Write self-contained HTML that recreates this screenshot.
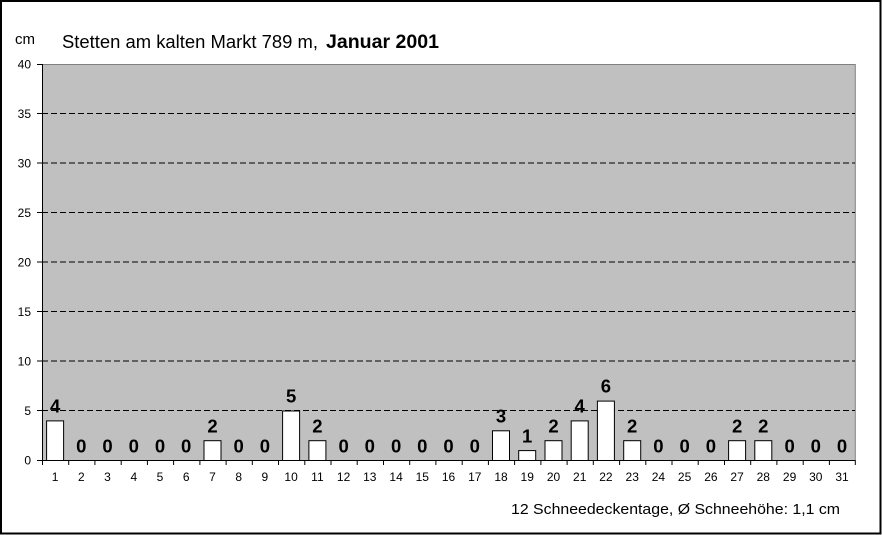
<!DOCTYPE html>
<html>
<head>
<meta charset="utf-8">
<style>
html,body{margin:0;padding:0;background:#fff;}
svg{display:block;}
text{font-family:"Liberation Sans",Arial,sans-serif;fill:#000;}
</style>
</head>
<body>
<svg width="882" height="535" viewBox="0 0 882 535" xmlns="http://www.w3.org/2000/svg">
<rect x="0" y="0" width="882" height="535" fill="#fff"/>
<rect x="1" y="1" width="879.5" height="532.5" fill="none" stroke="#000" stroke-width="2"/>

<!-- plot area -->
<rect x="42" y="64" width="813.3" height="396" fill="#C0C0C0"/>
<polyline points="42,64.5 855.3,64.5 855.3,460" fill="none" stroke="#808080" stroke-width="1"/>

<!-- gridlines -->
<g stroke="#000" stroke-width="1" stroke-dasharray="6,3">
<line x1="42" y1="113.5" x2="855" y2="113.5"/>
<line x1="42" y1="163" x2="855" y2="163"/>
<line x1="42" y1="212.5" x2="855" y2="212.5"/>
<line x1="42" y1="262" x2="855" y2="262"/>
<line x1="42" y1="311.5" x2="855" y2="311.5"/>
<line x1="42" y1="361" x2="855" y2="361"/>
<line x1="42" y1="410.5" x2="855" y2="410.5"/>
</g>

<!-- axes -->
<line x1="42.5" y1="64" x2="42.5" y2="460.5" stroke="#000" stroke-width="1"/>
<line x1="42" y1="460.5" x2="855.3" y2="460.5" stroke="#000" stroke-width="1"/>

<!-- y ticks -->
<g stroke="#000" stroke-width="1">
<line x1="37" y1="64.5" x2="42" y2="64.5"/>
<line x1="37" y1="113.5" x2="42" y2="113.5"/>
<line x1="37" y1="163" x2="42" y2="163"/>
<line x1="37" y1="212.5" x2="42" y2="212.5"/>
<line x1="37" y1="262" x2="42" y2="262"/>
<line x1="37" y1="311.5" x2="42" y2="311.5"/>
<line x1="37" y1="361" x2="42" y2="361"/>
<line x1="37" y1="410.5" x2="42" y2="410.5"/>
<line x1="37" y1="460.5" x2="42" y2="460.5"/>
</g>
<g font-size="12" text-anchor="end">
<text x="31" y="68.5">40</text>
<text x="31" y="118">35</text>
<text x="31" y="167.5">30</text>
<text x="31" y="217">25</text>
<text x="31" y="266.5">20</text>
<text x="31" y="316">15</text>
<text x="31" y="365.5">10</text>
<text x="31" y="415">5</text>
<text x="31" y="464.5">0</text>
</g>

<!-- x ticks -->
<g stroke="#000" stroke-width="1" id="xt"></g>

<!-- bars + labels -->
<g id="bars"></g>

<!-- titles -->
<text x="15" y="44" font-size="15">cm</text>
<text x="62" y="48" font-size="18" textLength="256" lengthAdjust="spacingAndGlyphs">Stetten am kalten Markt 789 m,</text>
<text x="326" y="48" font-size="19" font-weight="bold" textLength="113" lengthAdjust="spacingAndGlyphs">Januar 2001</text>
<text x="511" y="514" font-size="15" textLength="329" lengthAdjust="spacingAndGlyphs">12 Schneedeckentage, Ø Schneehöhe: 1,1 cm</text>

<g id="xl" font-size="12" text-anchor="middle">
<text x="55.1" y="481">1</text><text x="81.3" y="481">2</text><text x="107.5" y="481">3</text><text x="133.8" y="481">4</text><text x="160" y="481">5</text><text x="186.2" y="481">6</text><text x="212.5" y="481">7</text><text x="238.7" y="481">8</text><text x="264.9" y="481">9</text><text x="291.1" y="481">10</text><text x="317.4" y="481">11</text><text x="343.6" y="481">12</text><text x="369.8" y="481">13</text><text x="396.1" y="481">14</text><text x="422.3" y="481">15</text><text x="448.5" y="481">16</text><text x="474.8" y="481">17</text><text x="501" y="481">18</text><text x="527.2" y="481">19</text><text x="553.5" y="481">20</text><text x="579.7" y="481">21</text><text x="605.9" y="481">22</text><text x="632.2" y="481">23</text><text x="658.4" y="481">24</text><text x="684.6" y="481">25</text><text x="710.9" y="481">26</text><text x="737.1" y="481">27</text><text x="763.3" y="481">28</text><text x="789.6" y="481">29</text><text x="815.8" y="481">30</text><text x="842" y="481">31</text>
</g>

<g stroke="#000" stroke-width="1">
<line x1="42.5" y1="460" x2="42.5" y2="465"/><line x1="68.7" y1="460" x2="68.7" y2="465"/><line x1="94.9" y1="460" x2="94.9" y2="465"/><line x1="121.2" y1="460" x2="121.2" y2="465"/><line x1="147.4" y1="460" x2="147.4" y2="465"/><line x1="173.6" y1="460" x2="173.6" y2="465"/><line x1="199.9" y1="460" x2="199.9" y2="465"/><line x1="226.1" y1="460" x2="226.1" y2="465"/><line x1="252.3" y1="460" x2="252.3" y2="465"/><line x1="278.5" y1="460" x2="278.5" y2="465"/><line x1="304.8" y1="460" x2="304.8" y2="465"/><line x1="331" y1="460" x2="331" y2="465"/><line x1="357.2" y1="460" x2="357.2" y2="465"/><line x1="383.5" y1="460" x2="383.5" y2="465"/><line x1="409.7" y1="460" x2="409.7" y2="465"/><line x1="435.9" y1="460" x2="435.9" y2="465"/><line x1="462.2" y1="460" x2="462.2" y2="465"/><line x1="488.4" y1="460" x2="488.4" y2="465"/><line x1="514.6" y1="460" x2="514.6" y2="465"/><line x1="540.9" y1="460" x2="540.9" y2="465"/><line x1="567.1" y1="460" x2="567.1" y2="465"/><line x1="593.3" y1="460" x2="593.3" y2="465"/><line x1="619.6" y1="460" x2="619.6" y2="465"/><line x1="645.8" y1="460" x2="645.8" y2="465"/><line x1="672" y1="460" x2="672" y2="465"/><line x1="698.2" y1="460" x2="698.2" y2="465"/><line x1="724.5" y1="460" x2="724.5" y2="465"/><line x1="750.7" y1="460" x2="750.7" y2="465"/><line x1="776.9" y1="460" x2="776.9" y2="465"/><line x1="803.2" y1="460" x2="803.2" y2="465"/><line x1="829.4" y1="460" x2="829.4" y2="465"/><line x1="855.3" y1="460" x2="855.3" y2="465"/>
</g>

<!-- bars -->
<g fill="#fff" stroke="#000" stroke-width="1">
<rect x="46.6" y="420.9" width="17" height="39.6"/>
<rect x="204" y="440.7" width="17" height="19.8"/>
<rect x="282.6" y="411" width="17" height="49.5"/>
<rect x="308.9" y="440.7" width="17" height="19.8"/>
<rect x="492.5" y="430.8" width="17" height="29.7"/>
<rect x="518.7" y="450.6" width="17" height="9.9"/>
<rect x="545" y="440.7" width="17" height="19.8"/>
<rect x="571.2" y="420.9" width="17" height="39.6"/>
<rect x="597.4" y="401.1" width="17" height="59.4"/>
<rect x="623.7" y="440.7" width="17" height="19.8"/>
<rect x="728.6" y="440.7" width="17" height="19.8"/>
<rect x="754.8" y="440.7" width="17" height="19.8"/>
</g>

<!-- data labels -->
<g font-size="18.5" font-weight="bold" text-anchor="middle">
<text x="55.1" y="412.5">4</text>
<text x="81.3" y="452.5">0</text>
<text x="107.5" y="452.5">0</text>
<text x="133.8" y="452.5">0</text>
<text x="160" y="452.5">0</text>
<text x="186.2" y="452.5">0</text>
<text x="212.5" y="432.5">2</text>
<text x="238.7" y="452.5">0</text>
<text x="264.9" y="452.5">0</text>
<text x="291.1" y="402.5">5</text>
<text x="317.4" y="432.5">2</text>
<text x="343.6" y="452.5">0</text>
<text x="369.8" y="452.5">0</text>
<text x="396.1" y="452.5">0</text>
<text x="422.3" y="452.5">0</text>
<text x="448.5" y="452.5">0</text>
<text x="474.8" y="452.5">0</text>
<text x="501" y="422.5">3</text>
<text x="527.2" y="442.5">1</text>
<text x="553.5" y="432.5">2</text>
<text x="579.7" y="412.5">4</text>
<text x="605.9" y="392.5">6</text>
<text x="632.2" y="432.5">2</text>
<text x="658.4" y="452.5">0</text>
<text x="684.6" y="452.5">0</text>
<text x="710.9" y="452.5">0</text>
<text x="737.1" y="432.5">2</text>
<text x="763.3" y="432.5">2</text>
<text x="789.6" y="452.5">0</text>
<text x="815.8" y="452.5">0</text>
<text x="842" y="452.5">0</text>
</g>
</svg>
</body>
</html>
